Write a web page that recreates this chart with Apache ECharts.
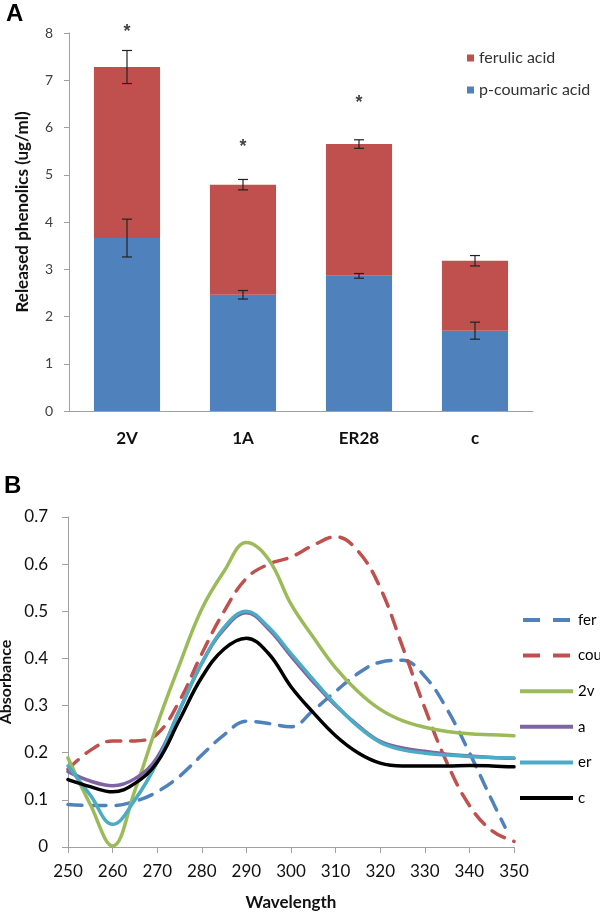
<!DOCTYPE html>
<html>
<head>
<meta charset="utf-8">
<script src="https://cdn.jsdelivr.net/npm/echarts@6/dist/echarts.min.js"></script>
<style>html,body{margin:0;padding:0;background:#fff}#c{width:600px;height:912px}</style>
</head>
<body>
<div id="c"></div>
<script>
// ---------- Panel A data ----------
const categories = ['2V', '1A', 'ER28', 'c'];
const coumaric = [3.66, 2.46, 2.86, 1.70];
const ferulic = [3.62, 2.33, 2.79, 1.48];
const coumaricErr = [0.40, 0.09, 0.05, 0.18];
const totalErr = [0.35, 0.11, 0.09, 0.11];
const starCats = ['2V', '1A', 'ER28'];
const starValues = [8.1, 5.67, 6.6];

// ---------- Panel B data ----------
const wavelengths = [250,255,260,265,270,275,280,285,290,295,300,305,310,315,320,325,330,335,340,345,350];
const waveFer = [250,255,260,265,270,275,280,285,290,295,300,305,310,315,320,325,330,335,340,345,348];
const fer = [0.090,0.088,0.088,0.097,0.117,0.150,0.195,0.238,0.267,0.262,0.255,0.290,0.330,0.368,0.392,0.396,0.362,0.292,0.200,0.100,0.042];
const cou = [0.165,0.205,0.225,0.225,0.240,0.310,0.410,0.500,0.570,0.600,0.615,0.640,0.658,0.628,0.550,0.425,0.295,0.178,0.088,0.035,0.012];
const v2 = [0.189,0.090,0.002,0.120,0.260,0.387,0.505,0.585,0.646,0.610,0.515,0.445,0.380,0.330,0.292,0.268,0.254,0.245,0.240,0.238,0.236];
const a = [0.160,0.140,0.130,0.145,0.190,0.290,0.390,0.462,0.497,0.462,0.405,0.350,0.300,0.258,0.224,0.210,0.203,0.197,0.193,0.190,0.188];
const er = [0.172,0.110,0.048,0.100,0.180,0.290,0.390,0.466,0.500,0.466,0.410,0.355,0.302,0.256,0.222,0.206,0.199,0.195,0.192,0.190,0.189];
const cc = [0.143,0.128,0.117,0.135,0.180,0.270,0.360,0.420,0.443,0.410,0.340,0.285,0.236,0.200,0.178,0.172,0.172,0.172,0.173,0.172,0.170];

const FONT = 'Lato';
const totals = coumaric.map((v, i) => v + ferulic[i]);
const errData = [];
categories.forEach((c, i) => {
  errData.push([i, coumaric[i] - coumaricErr[i], coumaric[i] + coumaricErr[i]]);
  errData.push([i, totals[i] - totalErr[i], totals[i] + totalErr[i]]);
});

function errRender(params, api) {
  const x = api.value(0);
  const lo = api.coord([x, api.value(1)]);
  const hi = api.coord([x, api.value(2)]);
  const cap = 5;
  const style = { stroke: '#222', lineWidth: 1.2 };
  return {
    type: 'group',
    children: [
      { type: 'line', shape: { x1: lo[0], y1: lo[1], x2: hi[0], y2: hi[1] }, style },
      { type: 'line', shape: { x1: lo[0] - cap, y1: lo[1], x2: lo[0] + cap, y2: lo[1] }, style },
      { type: 'line', shape: { x1: hi[0] - cap, y1: hi[1], x2: hi[0] + cap, y2: hi[1] }, style }
    ]
  };
}

function lineSeries(name, xs, ys, color, dashed) {
  return {
    name, type: 'line', xAxisIndex: 1, yAxisIndex: 1,
    data: xs.map((x, i) => [x, ys[i]]),
    smooth: 0.4, symbol: 'none', showSymbol: false,
    lineStyle: { color, width: 3.5, type: dashed ? [14, 10] : 'solid', cap: 'round' },
    itemStyle: { color },
    z: dashed ? 3 : 4
  };
}

const DASH_ICON = 'path://M0,0h17v4h-17z M30,0h17v4h-17z';
const SOLID_ICON = 'path://M0,0h53v4h-53z';

const chart = echarts.init(document.getElementById('c'), null, { renderer: 'canvas' });
chart.setOption({
  animation: false,
  backgroundColor: '#fff',
  textStyle: { fontFamily: FONT },
  graphic: [
    { type: 'text', left: 6, top: 2, style: { text: 'A', font: 'bold 24px Liberation Sans', fill: '#000' } },
    { type: 'text', left: 4, top: 474, style: { text: 'B', font: 'bold 24px Liberation Sans', fill: '#000' } }
  ],
  legend: [
    {
      data: ['ferulic acid', 'p-coumaric acid'],
      orient: 'vertical', left: 467, top: 50, padding: 0,
      icon: 'rect', itemWidth: 7, itemHeight: 7, itemGap: 16,
      textStyle: { fontFamily: FONT, fontSize: 16, lineHeight: 16, color: '#333' }
    },
    {
      data: [
        { name: 'fer', icon: DASH_ICON },
        { name: 'cou', icon: DASH_ICON },
        { name: '2v', icon: SOLID_ICON },
        { name: 'a', icon: SOLID_ICON },
        { name: 'er', icon: SOLID_ICON },
        { name: 'c', icon: SOLID_ICON }
      ],
      orient: 'vertical', left: 520, top: 612, padding: 0,
      itemWidth: 53, itemHeight: 4, itemGap: 19.6,
      textStyle: { fontFamily: FONT, fontSize: 15, lineHeight: 16, color: '#000' }
    }
  ],
  grid: [
    { left: 69, top: 33, width: 464, height: 378, outerBoundsMode: 'none', containLabel: false },
    { left: 68, top: 517, width: 446, height: 330, outerBoundsMode: 'none', containLabel: false }
  ],
  xAxis: [
    {
      type: 'category', gridIndex: 0, data: categories,
      axisLine: { lineStyle: { color: '#a0a0a0' } },
      axisTick: { show: false },
      axisLabel: { fontFamily: FONT, fontWeight: 'bold', fontSize: 17, color: '#111', margin: 19 }
    },
    {
      type: 'value', gridIndex: 1, min: 250, max: 350, interval: 10,
      name: 'Wavelength', nameLocation: 'middle', nameGap: 47,
      nameTextStyle: { fontFamily: FONT, fontWeight: 'bold', fontSize: 17, color: '#111' },
      axisLine: { lineStyle: { color: '#a0a0a0' } },
      axisTick: { show: true, inside: false, length: 6, lineStyle: { color: '#a0a0a0' } },
      splitLine: { show: false },
      axisLabel: { fontFamily: FONT, fontSize: 17, color: '#111', margin: 16 }
    }
  ],
  yAxis: [
    {
      type: 'value', gridIndex: 0, min: 0, max: 8, interval: 1,
      name: 'Released phenolics (ug/ml)', nameLocation: 'middle', nameGap: 38,
      nameTextStyle: { fontFamily: FONT, fontWeight: 'bold', fontSize: 17, color: '#111', padding: [0, 0, 0, 20] },
      axisLine: { show: true, lineStyle: { color: '#a0a0a0' } },
      axisTick: { show: true, length: 5, lineStyle: { color: '#a0a0a0' } },
      splitLine: { show: false },
      axisLabel: { fontFamily: FONT, fontSize: 14, color: '#404040', margin: 16 }
    },
    {
      type: 'value', gridIndex: 1, min: 0, max: 0.7, interval: 0.1,
      name: 'Absorbance', nameLocation: 'middle', nameGap: 51,
      nameTextStyle: { fontFamily: FONT, fontWeight: 'bold', fontSize: 16, color: '#111' },
      axisLine: { show: true, lineStyle: { color: '#a0a0a0' } },
      axisTick: { show: true, length: 6, lineStyle: { color: '#a0a0a0' } },
      splitLine: { show: false },
      axisLabel: { fontFamily: FONT, fontSize: 17, color: '#111', margin: 20 }
    }
  ],
  series: [
    {
      name: 'p-coumaric acid', type: 'bar', stack: 'a', xAxisIndex: 0, yAxisIndex: 0,
      data: coumaric, barWidth: '57%', itemStyle: { color: '#4F81BD' }
    },
    {
      name: 'ferulic acid', type: 'bar', stack: 'a', xAxisIndex: 0, yAxisIndex: 0,
      data: ferulic, barWidth: '57%', itemStyle: { color: '#C0504D' }
    },
    {
      type: 'custom', xAxisIndex: 0, yAxisIndex: 0, renderItem: errRender,
      data: errData, z: 10, silent: true
    },
    {
      type: 'scatter', xAxisIndex: 0, yAxisIndex: 0, symbolSize: 0, clip: false,
      data: starCats.map((c, i) => [c, starValues[i]]),
      label: { show: true, formatter: '*', fontSize: 18, fontWeight: 'bold', fontFamily: 'Liberation Sans', color: '#111', position: 'inside', offset: [0, 4] },
      silent: true
    },
    lineSeries('fer', waveFer, fer, '#4F81BD', true),
    lineSeries('cou', wavelengths, cou, '#C0504D', true),
    lineSeries('2v', wavelengths, v2, '#9BBB59', false),
    lineSeries('a', wavelengths, a, '#8064A2', false),
    lineSeries('er', wavelengths, er, '#4BACC6', false),
    lineSeries('c', wavelengths, cc, '#000000', false)
  ]
});
</script>
</body>
</html>
